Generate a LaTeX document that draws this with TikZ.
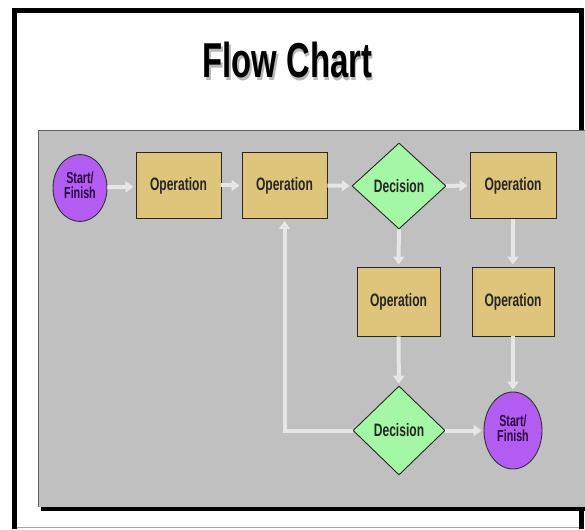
\documentclass[tikz,border=0pt]{standalone}
\usepackage{fontspec}
\setmainfont{Liberation Sans}
\usetikzlibrary{shapes.geometric,arrows.meta}
\definecolor{panelgray}{HTML}{C0C0C0}
\definecolor{opfill}{HTML}{DFC47C}
\definecolor{decfill}{HTML}{A4F7A4}
\definecolor{sffill}{HTML}{B25CF2}
\definecolor{arrowgray}{HTML}{E6E6E6}
\definecolor{sftext}{HTML}{2A0840}
\definecolor{shadowgray}{HTML}{B8B8B8}
\newcommand{\narrowtxt}[1]{\scalebox{0.67}[1]{#1}}
\newcommand{\twolines}[2]{\narrowtxt{\begin{tabular}{@{}c@{}}#1\\[-2pt]#2\end{tabular}}}
\tikzset{
  opbox/.style={draw=black!85, line width=0.9pt, fill=opfill, minimum width=85pt, minimum height=66pt, inner sep=0pt, font=\bfseries\fontsize{18}{18}\selectfont, text=black!85},
  decbox/.style={diamond, draw=black!85, line width=0.9pt, fill=decfill, minimum width=94pt, minimum height=86pt, inner sep=0pt, font=\bfseries\fontsize{18}{18}\selectfont, text=black!85},
  sfnode/.style={ellipse, draw=black!80, line width=0.9pt, fill=sffill, inner sep=0pt, font=\bfseries\fontsize{16}{17}\selectfont, text=sftext},
  flow/.style={draw=arrowgray, line width=4pt, -{Triangle[width=11pt,length=8pt]}, shorten >=2pt}
}
\begin{document}
\begin{tikzpicture}[x=1pt,y=-1pt]
\useasboundingbox (0,0) rectangle (585,529);
\fill[white] (0,0) rectangle (585,529);
% outer frame
\draw[gray!70, line width=1.5pt] (14.5,527.5) -- (581.5,527.5);
\draw[black, line width=4.5pt] (14.5,529) -- (14.5,10.5) -- (581.5,10.5) -- (581.5,529);
% title with soft shadow (one text)
\node[text=black] (title) at (287.5,61.5) {\narrowtxt{\bfseries\fontsize{49}{49}\selectfont\rlap{\hspace{2pt}\raisebox{-2.5pt}{\color{shadowgray}Flow Chart}}Flow Chart}};
% panel
\fill[black] (41,506) rectangle (590,511);
\fill[panelgray] (38,130) rectangle (590,507);
\draw[gray!75!black, line width=1pt] (38.5,507) -- (38.5,130.5) -- (590,130.5);
% nodes
\node[sfnode, minimum width=54pt, minimum height=67pt] (e1) at (80,188) {\twolines{Start/}{Finish}};
\node[opbox] (b1) at (178.5,185.5) {\narrowtxt{Operation}};
\node[opbox] (b2) at (284.5,185.5) {\narrowtxt{Operation}};
\node[decbox] (d1) at (399,186) {\narrowtxt{Decision}};
\node[opbox, minimum width=86pt] (b3) at (513,185.5) {\narrowtxt{Operation}};
\node[opbox, minimum width=83pt, minimum height=69pt] (b4) at (398.5,301.5) {\narrowtxt{Operation}};
\node[opbox, minimum width=82pt, minimum height=69pt] (b5) at (513,301.5) {\narrowtxt{Operation}};
\node[decbox, minimum width=92pt, minimum height=89pt] (d2) at (399,430.5) {\narrowtxt{Decision}};
\node[sfnode, minimum width=58pt, minimum height=77pt] (e2) at (513,430.5) {\twolines{Start/}{Finish}};
% connectors
\draw[flow] (e1) -- (b1);
\draw[flow] (b1) -- (b2);
\draw[flow] (b2) -- (d1);
\draw[flow] (d1) -- (b3);
\draw[flow] (d1) -- (b4);
\draw[flow] (b3) -- (b5);
\draw[flow] (b4) -- (d2);
\draw[flow] (b5) -- (e2);
\draw[flow] (d2) -- (e2);
\draw[flow] (d2.west) -| (b2.south);
\end{tikzpicture}
\end{document}
